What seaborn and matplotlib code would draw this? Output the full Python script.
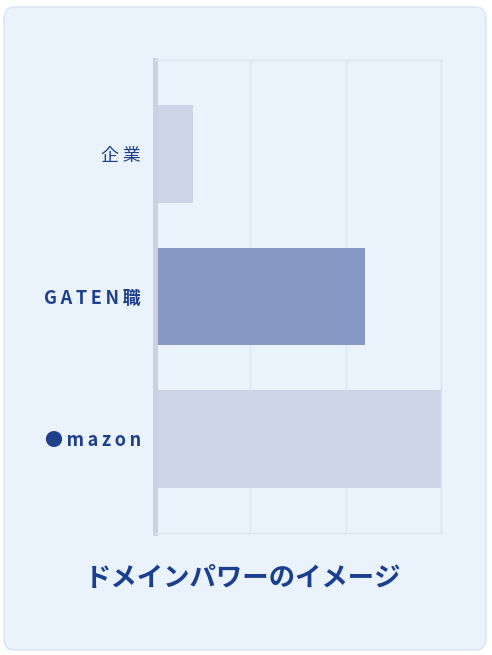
import matplotlib
matplotlib.use("Agg")
import matplotlib.pyplot as plt
from matplotlib.patches import FancyBboxPatch
import pandas as pd
import seaborn as sns

sns.set_style("white")
plt.rcParams['font.family'] = ['Noto Sans CJK JP', 'DejaVu Sans']

# データ
labels = ["企業", "GATEN職", "●mazon"]
values = [0.4, 2.2, 3.0]
colors = ["#CCD4E6", "#8798C3", "#CCD4E6"]
title = "ドメインパワーのイメージ"

df = pd.DataFrame({"label": labels, "value": values})

fig = plt.figure(figsize=(4.92, 6.55), dpi=100)
fig.patch.set_facecolor("white")

# 背景カード
card = FancyBboxPatch((4 / 492, 5 / 655), 482 / 492, 643 / 655,
                      boxstyle="round,pad=0,rounding_size=0.02",
                      transform=fig.transFigure, facecolor="#EAF3FC",
                      edgecolor="#D7E5F3", linewidth=1.0, zorder=-10)
fig.patches.append(card)

ax = fig.add_axes([155 / 492, 1 - 533 / 655, 286 / 492, 473 / 655])
ax.set_facecolor("#EAF3FC")

sns.barplot(data=df, y="label", x="value", hue="label", palette=colors,
            orient="h", width=0.685, legend=False, ax=ax, saturation=1,
            linewidth=0)

ax.set_xlim(0, 3)
ax.set_ylim(2.66, -0.66)
ax.set_xticks([1, 2, 3])
ax.set_xticklabels([])
ax.grid(axis="x", color="#DCE6F1", linewidth=1.0)
ax.set_axisbelow(True)
ax.tick_params(axis="both", length=0)
ax.set_xlabel("")
ax.set_ylabel("")

for side in ["top", "bottom", "right"]:
    ax.spines[side].set_color("#DCE6F1")
    ax.spines[side].set_linewidth(1.0)
ax.spines["left"].set_color("#C9D1E2")
ax.spines["left"].set_linewidth(3.5)

spaced = ["\u2009".join(list(s)) for s in labels]
ax.set_yticks(range(len(labels)))
ax.set_yticklabels(spaced, fontsize=13, color="#1F3F8A", fontweight="bold")
ax.get_yticklabels()[0].set_fontweight("normal")
ax.tick_params(axis="y", pad=10)

fig.text(243 / 492, 1 - 578 / 655, title, ha="center", va="center",
         fontsize=19, fontweight="bold", color="#1B3F8E")

fig.savefig("out.png", dpi=100, facecolor=fig.get_facecolor())
